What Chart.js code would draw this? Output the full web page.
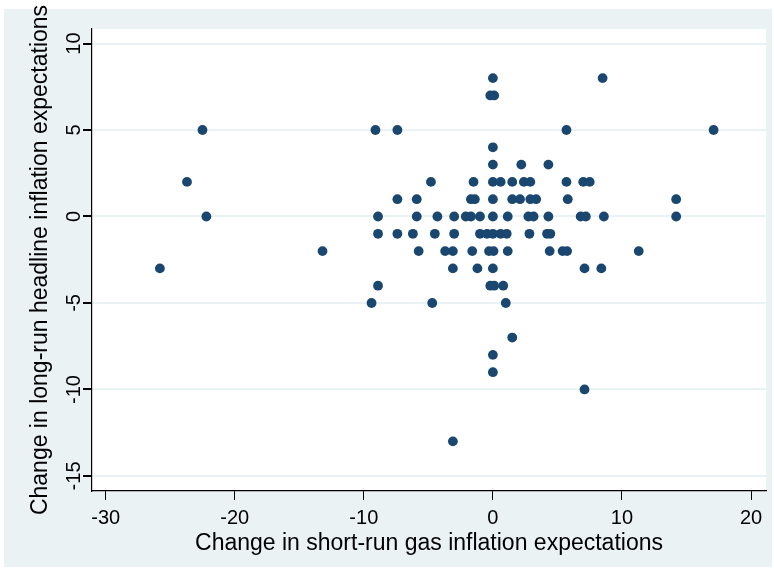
<!DOCTYPE html>
<html>
<head>
<meta charset="utf-8">
<title>Gas vs headline inflation expectations</title>
<script src="https://cdn.jsdelivr.net/npm/chart.js@4.4.1/dist/chart.umd.min.js"></script>
<style>
  html, body { margin: 0; padding: 0; background: #ffffff; }
  #wrap { width: 774px; height: 573px; }
</style>
</head>
<body>
<div id="wrap"><canvas id="chart" width="774" height="573"></canvas></div>
<script>
// Axis ticks
const xTicks = [-30, -20, -10, 0, 10, 20];
const yTicks = [-15, -10, -5, 0, 5, 10];

// Change in short-run gas inflation expectations (x) per respondent
const gasChange = [
  0, 8.5,
  -0.2, 0.1,
  -22.5, -9.1, -7.4, 5.7, 17.1,
  0,
  0, 2.2, 4.3,
  -23.7, -4.8, -1.5, 0, 0.6, 1.5, 2.4, 2.9, 5.7, 7.0, 7.5,
  -7.4, -5.9, -1.7, -1.4, 0, 1.5, 2.1, 2.9, 3.35, 5.8, 14.2,
  -22.2, -8.9, -5.9, -4.3, -3.0, -2.1, -1.7, -1.0, 0, 1.15, 2.75, 3.15, 4.3, 6.8, 7.2, 8.6, 14.2,
  -8.9, -7.4, -6.2, -4.5, -3.0, -1.0, -0.45, 0, 0.6, 1.07, 2.83, 4.2, 4.45,
  -13.2, -5.75, -3.7, -3.1, -1.6, -0.3, 0.05, 1.15, 4.4, 5.4, 5.75, 11.3,
  -25.8, -3.1, -1.2, 0, 7.1, 8.4,
  -8.9, -0.2, 0.1, 0.8,
  -9.4, -4.7, 1.0,
  1.5,
  0,
  0,
  7.1,
  -3.1
];

// Change in long-run headline inflation expectations (y) per respondent
const headlineChange = [
  8, 8,
  7, 7,
  5, 5, 5, 5, 5,
  4,
  3, 3, 3,
  2, 2, 2, 2, 2, 2, 2, 2, 2, 2, 2,
  1, 1, 1, 1, 1, 1, 1, 1, 1, 1, 1,
  0, 0, 0, 0, 0, 0, 0, 0, 0, 0, 0, 0, 0, 0, 0, 0, 0,
  -1, -1, -1, -1, -1, -1, -1, -1, -1, -1, -1, -1, -1,
  -2, -2, -2, -2, -2, -2, -2, -2, -2, -2, -2, -2,
  -3, -3, -3, -3, -3, -3,
  -4, -4, -4, -4,
  -5, -5, -5,
  -7,
  -8,
  -9,
  -10,
  -13
];

const points = gasChange.map((x, i) => ({ x: x, y: headlineChange[i] }));

const FONT = "'Liberation Sans', Arial, Helvetica, sans-serif";
const PANEL = '#eaf2f3';
const MARKER = '#1a476f';

// Outer panel and white plot region
const panelPlugin = {
  id: 'panel',
  beforeDraw(chart) {
    const { ctx, chartArea: a } = chart;
    ctx.save();
    ctx.fillStyle = '#ffffff';
    ctx.fillRect(0, 0, chart.width, chart.height);
    ctx.fillStyle = PANEL;
    ctx.fillRect(4, 9, 768, 558);
    ctx.fillStyle = '#ffffff';
    ctx.fillRect(a.left, a.top, a.right - a.left, a.bottom - a.top);
    ctx.restore();
  }
};

// Vertical y tick labels, reading bottom to top
const yLabelPlugin = {
  id: 'yLabels',
  afterDraw(chart) {
    const { ctx } = chart;
    const ys = chart.scales.y;
    ctx.save();
    ctx.fillStyle = '#000000';
    ctx.font = '20px ' + FONT;
    ctx.textAlign = 'center';
    ctx.textBaseline = 'middle';
    yTicks.forEach(v => {
      const py = ys.getPixelForValue(v);
      ctx.save();
      ctx.translate(74, py);
      ctx.rotate(-Math.PI / 2);
      ctx.fillText(String(v), 0, 0);
      ctx.restore();
    });
    ctx.restore();
  }
};

new Chart(document.getElementById('chart'), {
  type: 'scatter',
  data: {
    datasets: [{
      data: points,
      backgroundColor: MARKER,
      borderColor: MARKER,
      borderWidth: 0,
      pointRadius: 4.9,
      pointHoverRadius: 4.9
    }]
  },
  options: {
    responsive: false,
    animation: false,
    events: [],
    layout: { padding: { top: 29, right: 8, left: 0, bottom: 0 } },
    plugins: {
      legend: { display: false },
      tooltip: { enabled: false }
    },
    scales: {
      x: {
        type: 'linear',
        min: -31.06,
        max: 21.16,
        afterBuildTicks: s => { s.ticks = xTicks.map(v => ({ value: v })); },
        afterFit: s => { s.height = 82; },
        grid: { drawOnChartArea: false, tickColor: '#000000', tickLength: 9, lineWidth: 1 },
        border: { display: true, color: '#000000', width: 1.2 },
        ticks: {
          color: '#000000',
          font: { family: FONT, size: 20 },
          padding: 6,
          maxRotation: 0,
          minRotation: 0,
          autoSkip: false,
          callback: v => String(v)
        },
        title: {
          display: true,
          text: 'Change in short-run gas inflation expectations',
          color: '#000000',
          font: { family: FONT, size: 23 },
          padding: { top: 0, bottom: 16 }
        }
      },
      y: {
        type: 'linear',
        min: -15.87,
        max: 10.84,
        afterBuildTicks: s => { s.ticks = yTicks.map(v => ({ value: v })); },
        afterFit: s => { s.width = 92; },
        grid: { color: PANEL, lineWidth: 2, tickColor: '#000000', tickLength: 9 },
        border: { display: true, color: '#000000', width: 1.2 },
        ticks: { display: false },
        title: {
          display: true,
          text: 'Change in long-run headline inflation expectations',
          color: '#000000',
          font: { family: FONT, size: 23 },
          padding: { top: 27, bottom: 0 }
        }
      }
    }
  },
  plugins: [panelPlugin, yLabelPlugin]
});
</script>
</body>
</html>
